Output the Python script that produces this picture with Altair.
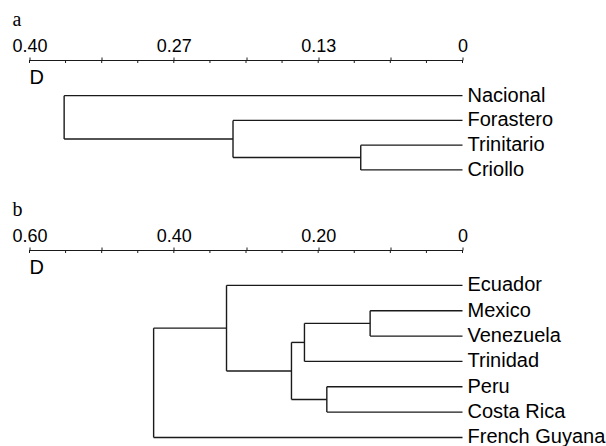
import altair as alt
import pandas as pd

# ---------------- Panel a data ----------------
leaves_a = ["Nacional", "Forastero", "Trinitario", "Criollo"]
merge_name_a = ["A1", "A2", "A3"]
merge_left_a = ["Trinitario", "Forastero", "Nacional"]
merge_right_a = ["Criollo", "A1", "A2"]
merge_height_a = [0.094, 0.212, 0.368]

ticks_a = [0.4, 0.3667, 0.3333, 0.3, 0.2667, 0.2333, 0.2, 0.1667, 0.1333, 0.1, 0.0667, 0.0333, 0.0]
label_values_a = [0.4, 0.2667, 0.1333, 0.0]
label_texts_a = ["0.40", "0.27", "0.13", "0"]

# ---------------- Panel b data ----------------
leaves_b = ["Ecuador", "Mexico", "Venezuela", "Trinidad", "Peru", "Costa Rica", "French Guyana"]
merge_name_b = ["B1", "B2", "B3", "B4", "B5", "B6"]
merge_left_b = ["Mexico", "Peru", "B1", "B3", "Ecuador", "B5"]
merge_right_b = ["Venezuela", "Costa Rica", "Trinidad", "B2", "B4", "French Guyana"]
merge_height_b = [0.128, 0.188, 0.219, 0.237, 0.327, 0.428]

ticks_b = [0.6, 0.55, 0.5, 0.45, 0.4, 0.35, 0.3, 0.25, 0.2, 0.15, 0.1, 0.05, 0.0]
label_values_b = [0.6, 0.4, 0.2, 0.0]
label_texts_b = ["0.60", "0.40", "0.20", "0"]

axis_name = "D"

LINE = "#1a1a1a"
SANS = "Liberation Sans"
SERIF = "Liberation Serif"


def segments(leaves, names, left, right, heights):
    pos = {n: (0.0, float(i)) for i, n in enumerate(leaves)}
    rows = []
    for n, l, r, h in zip(names, left, right, heights):
        xl, yl = pos[l]
        xr, yr = pos[r]
        rows.append(dict(x=xl, x2=h, y=yl, y2=yl))
        rows.append(dict(x=xr, x2=h, y=yr, y2=yr))
        rows.append(dict(x=h, x2=h, y=yl, y2=yr))
        pos[n] = (h, (yl + yr) / 2)
    return pd.DataFrame(rows)


def label_expr(values, texts):
    expr = "''"
    for v, t in reversed(list(zip(values, texts))):
        expr = f"abs(datum.value - {v}) < 0.001 ? '{t}' : ({expr})"
    return expr


def panel(letter, leaves, names, left, right, heights, ticks, lvals, ltexts,
          dmax, ydom, height):
    xscale = alt.Scale(domain=[0, dmax], reverse=True, nice=False, zero=False)
    yscale = alt.Scale(domain=ydom, reverse=True, nice=False, zero=False)
    seg = segments(leaves, names, left, right, heights)

    axis = alt.Axis(
        orient="top", values=ticks, labelExpr=label_expr(lvals, ltexts),
        labelFlush=False, labelOverlap=False, labelBound=False,
        labelFont=SANS, labelFontSize=18, labelColor="black",
        labelBaseline="alphabetic", labelPadding=6,
        tickSize=3, tickColor=LINE, tickWidth=1,
        domainColor=LINE, domainWidth=1.2, grid=False,
        title=None,
    )

    lines = alt.Chart(seg).mark_rule(color=LINE, strokeWidth=1.4).encode(
        x=alt.X("x:Q", scale=xscale, axis=axis),
        x2="x2:Q",
        y=alt.Y("y:Q", scale=yscale, axis=None),
        y2="y2:Q",
    )

    tick_df = pd.DataFrame({"t": ticks})
    ticks_down = alt.Chart(tick_df).mark_rule(color=LINE, strokeWidth=1).encode(
        x=alt.X("t:Q", scale=xscale),
        y=alt.value(0),
        y2=alt.value(3),
    )

    d_df = pd.DataFrame({"t": [dmax], "label": [axis_name]})
    d_text = alt.Chart(d_df).mark_text(
        align="left", baseline="alphabetic", font=SANS, fontSize=20, color="black"
    ).encode(
        x=alt.X("t:Q", scale=xscale),
        y=alt.value(24),
        text="label:N",
    )

    leaf_df = pd.DataFrame({"name": leaves, "x": [0.0] * len(leaves),
                            "y": [float(i) for i in range(len(leaves))]})
    texts = alt.Chart(leaf_df).mark_text(
        align="left", baseline="middle", dx=5, font=SANS, fontSize=20, color="black"
    ).encode(
        x=alt.X("x:Q", scale=xscale),
        y=alt.Y("y:Q", scale=yscale),
        text="name:N",
    )

    return alt.layer(lines, ticks_down, d_text, texts).properties(
        width=433, height=height,
        title=alt.TitleParams(
            text=letter, anchor="start", frame="group", dx=-17, offset=-9,
            baseline="alphabetic", font=SERIF, fontSize=20, fontWeight="normal",
            color="black",
        ),
    )


pa = panel("a", leaves_a, merge_name_a, merge_left_a, merge_right_a, merge_height_a,
           ticks_a, label_values_a, label_texts_a, 0.4, [-1.44, 3.61], 125)
pb = panel("b", leaves_b, merge_name_b, merge_left_b, merge_right_b, merge_height_b,
           ticks_b, label_values_b, label_texts_b, 0.6, [-1.3975, 6.18], 192)

chart = alt.vconcat(pa, pb, spacing=15).properties(
    padding={"left": 11.5, "top": 10, "right": 0, "bottom": 0},
    background="white",
).configure_view(stroke=None)

chart.save("out.html", embed_options={"renderer": "svg", "actions": False})
